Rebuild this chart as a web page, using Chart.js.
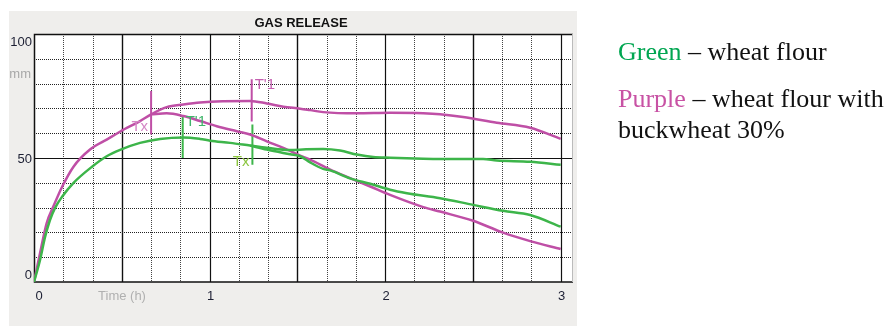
<!DOCTYPE html>
<html>
<head>
<meta charset="utf-8">
<script src="https://cdn.jsdelivr.net/npm/chart.js@4/dist/chart.umd.min.js"></script>
<style>
  html, body { margin:0; padding:0; background:#fff; }
  #wrap { position:relative; width:892px; height:326px; overflow:hidden; }
  #c { position:absolute; left:0; top:0; }
  .lg { position:absolute; left:618px; font-family:"Liberation Serif","Times New Roman",serif; font-size:26px; line-height:31px; color:#111; white-space:nowrap; }
</style>
</head>
<body>
<div id="wrap">
  <canvas id="c" width="892" height="326"></canvas>
  <div class="lg" style="top:36px"><span style="color:#00a651">Green</span> – wheat flour</div>
  <div class="lg" style="top:83px"><span style="color:#c852a4">Purple</span> – wheat flour with<br>buckwheat 30%</div>
</div>
<script>
// ---- data (time in hours, height in mm) ----
const chartTitle = 'GAS RELEASE';
const xTickLabels = [0, 1, 2, 3];
const yTickLabels = [0, 50, 100];
const yUnit = 'mm';
const xTitle = 'Time (h)';

const green1Time = [0, 0.034, 0.063, 0.091, 0.12, 0.161, 0.224, 0.329, 0.414, 0.494, 0.604, 0.718, 0.851, 0.946, 1.003, 1.117, 1.231, 1.326, 1.459, 1.55, 1.647, 1.743, 1.839, 1.932, 2.028, 2.217, 2.313, 2.558, 2.636, 2.826, 3.0];
const green1Vals = [0, 8.8, 18.2, 25, 29.9, 34.5, 39.9, 46.4, 50.7, 53.4, 56.1, 57.7, 58.3, 57.7, 57, 56.1, 55, 54.1, 53.2, 53.5, 53.6, 53, 51.4, 50.4, 50.1, 49.7, 49.6, 49.6, 49, 48.5, 47.3];

const green2Time = [1.231, 1.326, 1.459, 1.516, 1.573, 1.647, 1.687, 1.80, 1.915, 2.028, 2.124, 2.313, 2.501, 2.672, 2.826, 3.0];
const green2Vals = [55, 53.4, 51.5, 50.7, 48.2, 45.6, 45.0, 41.8, 39.6, 37.2, 35.8, 33.8, 31.1, 28.7, 27, 22.3];

const purple1Time = [0, 0.034, 0.072, 0.11, 0.161, 0.224, 0.319, 0.414, 0.494, 0.604, 0.667, 0.756, 0.851, 0.946, 1.231, 1.326, 1.42, 1.516, 1.573, 1.647, 1.839, 2.028, 2.217, 2.313, 2.444, 2.636, 2.826, 3.0];
const purple1Vals = [0, 11.5, 23.7, 30.4, 38.5, 46.4, 53.4, 57.4, 60.8, 64.9, 67.6, 70.5, 71.6, 72.4, 73, 72, 70.7, 69.9, 69.3, 68.5, 68, 68.2, 68, 67.6, 66.5, 64.2, 62.2, 57.7];

const purple2Time = [0.667, 0.756, 0.851, 0.946, 1.041, 1.155, 1.231, 1.326, 1.42, 1.516, 1.573, 1.687, 1.80, 1.915, 2.028, 2.217, 2.313, 2.501, 2.672, 2.826, 3.0];
const purple2Vals = [67.6, 68.0, 66.9, 64.9, 62.8, 60.8, 59.5, 56.7, 54.1, 51, 49.3, 45.3, 41.9, 38.5, 35.1, 30.2, 28.4, 24.7, 19.9, 16.5, 13.3];

// marker lines: time, top value, bottom value, label, label value
const markerTimes  = [0.667, 1.24, 0.847, 1.244];
const markerTop    = [77, 81.8, 67.2, 63.5];
const markerBottom = [59.5, 64.7, 50, 47.3];
const markerLabels = ['Tx', "T'1", "T'1", 'Tx'];
const markerLabelY = [62.4, 79.4, 64.4, 48.6];

// ---- styles ----
const GREEN = '#3db54a', PURPLE = '#bf4fa6';
const markerColors = [PURPLE, PURPLE, GREEN, GREEN];
const markerTextColors = ['#d487c6', '#c45fb0', '#3fb56a', '#8cc640'];
const markerTextSide = ['left', 'right', 'right', 'left'];

const pts = (t, v) => t.map((x, i) => ({ x, y: v[i] }));

const datasets = [
  { data: pts(green1Time, green1Vals), borderColor: GREEN },
  { data: pts(green2Time, green2Vals), borderColor: GREEN },
  { data: pts(purple1Time, purple1Vals), borderColor: PURPLE },
  { data: pts(purple2Time, purple2Vals), borderColor: PURPLE },
].map(d => Object.assign(d, { borderWidth: 2.5, pointRadius: 0, cubicInterpolationMode: 'monotone', fill: false }));

markerTimes.forEach((t, i) => {
  datasets.push({ data: [{ x: t, y: markerTop[i] }, { x: t, y: markerBottom[i] }],
    borderColor: markerColors[i], borderWidth: 2, pointRadius: 0, tension: 0, fill: false });
});

const chartDeco = {
  id: 'deco',
  beforeDraw(chart) {
    const { ctx, chartArea: a } = chart;
    ctx.save();
    ctx.fillStyle = '#efeeec';
    ctx.fillRect(9, 11, 568, 315);
    ctx.fillStyle = '#ffffff';
    ctx.fillRect(a.left, a.top, a.right - a.left, a.bottom - a.top);
    // grid
    const xs = chart.scales.x, ys = chart.scales.y;
    ctx.lineWidth = 1;
    for (let k = 1; k <= 18; k++) {
      const v = k / 6;
      const px = Math.round(xs.getPixelForValue(v)) + 0.5;
      if (px > a.right) break;
      const solid = k % 3 === 0;
      ctx.beginPath();
      ctx.setLineDash(solid ? [] : [1, 1]);
      ctx.strokeStyle = solid ? '#111' : '#444';
      ctx.lineWidth = solid ? (k % 6 === 0 ? 1.2 : 1.4) : 1;
      ctx.moveTo(px, a.top); ctx.lineTo(px, a.bottom); ctx.stroke();
    }
    for (let v = 10; v < 100; v += 10) {
      const py = Math.round(ys.getPixelForValue(v)) + 0.5;
      const solid = v === 50;
      ctx.beginPath();
      ctx.setLineDash(solid ? [] : [1, 1]);
      ctx.strokeStyle = solid ? '#111' : '#222';
      ctx.lineWidth = 1;
      ctx.moveTo(a.left, py); ctx.lineTo(a.right, py); ctx.stroke();
    }
    ctx.setLineDash([]);
    ctx.strokeStyle = '#111';
    ctx.lineWidth = 1.5;
    ctx.beginPath();
    ctx.moveTo(a.right, a.top + 0.5); ctx.lineTo(a.left + 0.5, a.top + 0.5);
    ctx.lineTo(a.left + 0.5, a.bottom); ctx.lineTo(a.right, a.bottom);
    ctx.stroke();
    ctx.strokeStyle = '#bbb'; ctx.lineWidth = 1;
    ctx.beginPath(); ctx.moveTo(a.right - 0.5, a.top); ctx.lineTo(a.right - 0.5, a.bottom); ctx.stroke();
    // title
    ctx.fillStyle = '#111';
    ctx.font = 'bold 13px "Liberation Sans", Arial, sans-serif';
    ctx.textAlign = 'center'; ctx.textBaseline = 'middle';
    ctx.fillText(chartTitle, 301, 23);
    // y labels
    ctx.font = '13px "Liberation Sans", Arial, sans-serif';
    ctx.fillStyle = '#1c1f33';
    ctx.textAlign = 'right';
    const yOff = { 0: -7, 50: 1, 100: 8 };
    yTickLabels.forEach(v => {
      ctx.fillText(String(v), 32, ys.getPixelForValue(v) + (yOff[v] || 0));
    });
    ctx.fillStyle = '#a8a8a8';
    ctx.fillText(yUnit, 31, 74);
    // x labels
    ctx.fillStyle = '#1c1f33';
    ctx.textAlign = 'center';
    xTickLabels.forEach(v => {
      ctx.fillText(String(v), xs.getPixelForValue(v) + (v === 0 ? 5 : 1), 296);
    });
    ctx.fillStyle = '#b0b0b0';
    ctx.fillText(xTitle, 122, 296);
    ctx.restore();
  },
  afterDatasetsDraw(chart) {
    const { ctx } = chart;
    const xs = chart.scales.x, ys = chart.scales.y;
    ctx.save();
    ctx.font = '15px "Liberation Sans", Arial, sans-serif';
    ctx.textBaseline = 'middle';
    markerTimes.forEach((t, i) => {
      const px = xs.getPixelForValue(t);
      const py = ys.getPixelForValue(markerLabelY[i]);
      ctx.fillStyle = markerTextColors[i];
      if (markerTextSide[i] === 'left') { ctx.textAlign = 'right'; ctx.fillText(markerLabels[i], px - 3, py); }
      else { ctx.textAlign = 'left'; ctx.fillText(markerLabels[i], px + 3, py); }
    });
    ctx.restore();
  }
};

new Chart(document.getElementById('c'), {
  type: 'line',
  data: { datasets },
  options: {
    responsive: false,
    animation: false,
    layout: { padding: { left: 34, top: 34, right: 319, bottom: 44 } },
    plugins: { legend: { display: false }, tooltip: { enabled: false }, title: { display: false } },
    scales: {
      x: { type: 'linear', min: 0, max: 3.07, display: false },
      y: { type: 'linear', min: 0, max: 100, display: false }
    }
  },
  plugins: [chartDeco]
});
</script>
</body>
</html>
